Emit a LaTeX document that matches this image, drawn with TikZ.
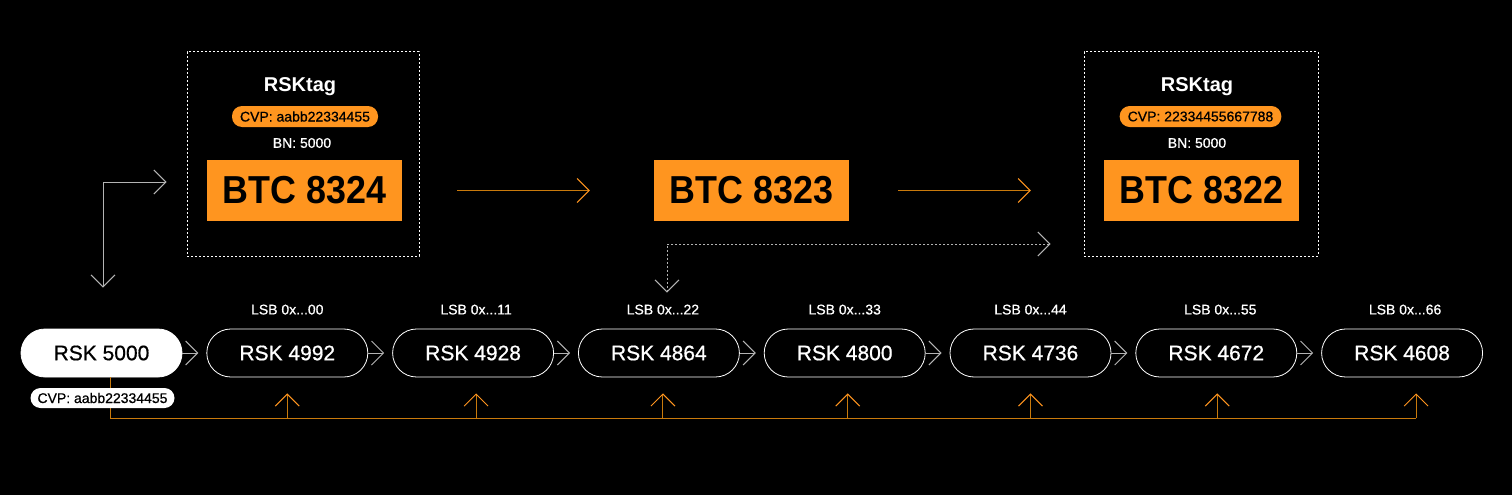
\documentclass[tikz,border=0pt]{standalone}
\usepackage{fontspec}
\setmainfont{Liberation Sans}
\newfontfamily\medfont[FakeBold=0.7]{Liberation Sans}
\newfontfamily\btcfont[FakeStretch=0.92]{Liberation Sans}
\usepackage{tikz}
\usetikzlibrary{arrows.meta,positioning,calc}
\definecolor{btcorange}{HTML}{FF951F}
\definecolor{linkorange}{HTML}{C97A0C}
\definecolor{linkgray}{HTML}{B4B4B4}
\tikzset{
  tagbox/.style={draw=white, line width=1pt, dash pattern=on 2pt off 2pt, minimum width=232pt, minimum height=204pt},
  tagtitle/.style={text=white, inner sep=0pt, font=\fontsize{20}{20}\selectfont\bfseries},
  cvppill/.style={fill=btcorange, text=black, rounded corners=10pt, minimum height=21pt, inner xsep=8pt, inner ysep=0pt, font=\fontsize{14}{14}\medfont},
  bnlabel/.style={text=white, inner sep=0pt, font=\fontsize{14}{14}\medfont},
  btcbox/.style={fill=btcorange, text=black, minimum width=195pt, minimum height=61pt, inner sep=0pt, font=\fontsize{39}{39}\btcfont\bfseries},
  rskpill/.style={draw=white, line width=0.8pt, fill=black, text=white, rounded corners=24pt, minimum width=161pt, minimum height=48pt, inner sep=0pt, font=\fontsize{21}{21}\medfont},
  rskfirst/.style={rskpill, fill=white, text=black},
  cvplabel/.style={fill=white, text=black, rounded corners=10pt, minimum height=20pt, inner xsep=7pt, inner ysep=0pt, font=\fontsize{14}{14}\medfont},
  lsblabel/.style={text=white, inner sep=0pt, font=\fontsize{14}{14}\medfont},
  grayarrow/.style={draw=linkgray, line width=1pt, -{Straight Barb[length=12pt, width=24pt]}},
  graylink/.style={draw=linkgray, line width=1pt, {Straight Barb[length=12pt, width=24pt]}-{Straight Barb[length=12pt, width=24pt]}},
  dottedlink/.style={graylink, dash pattern=on 2pt off 2pt},
  orangearrow/.style={draw=linkorange, line width=1pt, -{Straight Barb[length=12pt, width=24pt, color=btcorange]}},
  orangeline/.style={draw=linkorange, line width=1pt}
}
\begin{document}
\begin{tikzpicture}[x=1pt,y=-1pt]
  \fill[black] (0,0) rectangle (1512,495);
  \useasboundingbox (0,0) rectangle (1512,495);

  % tagged bitcoin blocks
  \node[tagbox] (tag1) at (303,154) {};
  \node[tagtitle] (title1) at (300,87) {RSKtag};
  \node[cvppill] (cvp1) at (305,116.5) {CVP: aabb22334455};
  \node[bnlabel] (bn1) at (302,143) {BN: 5000};
  \node[btcbox] (btc1) at (304.5,190.5) {BTC 8324};

  \node[btcbox] (btc2) at (751.5,190.5) {BTC 8323};

  \node[tagbox, minimum width=234pt] (tag2) at (1201,154) {};
  \node[tagtitle] (title2) at (1197,87) {RSKtag};
  \node[cvppill] (cvp2) at (1200.5,116.5) {CVP: 22334455667788};
  \node[bnlabel] (bn2) at (1197,143) {BN: 5000};
  \node[btcbox] (btc3) at (1201.5,190.5) {BTC 8322};

  \draw[orangearrow, shorten <=55pt, shorten >=64pt] (btc1) -- (btc2);
  \draw[orangearrow, shorten <=49pt, shorten >=73pt] (btc2) -- (btc3);

  % rootstock chain
  \node[rskfirst] (rsk5000) at (101.5,353) {RSK 5000};
  \node[rskpill, right=24pt of rsk5000] (rsk4992) {RSK 4992};
  \node[rskpill, right=24pt of rsk4992] (rsk4928) {RSK 4928};
  \node[rskpill, right=24pt of rsk4928] (rsk4864) {RSK 4864};
  \node[rskpill, right=24pt of rsk4864] (rsk4800) {RSK 4800};
  \node[rskpill, right=24pt of rsk4800] (rsk4736) {RSK 4736};
  \node[rskpill, right=24pt of rsk4736] (rsk4672) {RSK 4672};
  \node[rskpill, right=24pt of rsk4672] (rsk4608) {RSK 4608};

  \node[lsblabel] (lsb1) at ([yshift=19pt]rsk4992.north) {LSB 0x...00};
  \node[lsblabel] (lsb2) at ([xshift=3pt,yshift=19pt]rsk4928.north) {LSB 0x...11};
  \node[lsblabel] (lsb3) at ([xshift=4pt,yshift=19pt]rsk4864.north) {LSB 0x...22};
  \node[lsblabel] (lsb4) at ([yshift=19pt]rsk4800.north) {LSB 0x...33};
  \node[lsblabel] (lsb5) at ([yshift=19pt]rsk4736.north) {LSB 0x...44};
  \node[lsblabel] (lsb6) at ([xshift=4pt,yshift=19pt]rsk4672.north) {LSB 0x...55};
  \node[lsblabel] (lsb7) at ([xshift=3pt,yshift=19pt]rsk4608.north) {LSB 0x...66};

  \draw[grayarrow, shorten >=8pt] (rsk5000) -- (rsk4992);
  \draw[grayarrow, shorten >=8pt] (rsk4992) -- (rsk4928);
  \draw[grayarrow, shorten >=8pt] (rsk4928) -- (rsk4864);
  \draw[grayarrow, shorten >=8pt] (rsk4864) -- (rsk4800);
  \draw[grayarrow, shorten >=8pt] (rsk4800) -- (rsk4736);
  \draw[grayarrow, shorten >=8pt] (rsk4736) -- (rsk4672);
  \draw[grayarrow, shorten >=8pt] (rsk4672) -- (rsk4608);

  % links between the two chains
  \coordinate (tagin) at ([xshift=-20pt]tag1.west |- 0,182);
  \coordinate (rskin) at ([yshift=41pt]rsk5000.north -| 103,0);
  \draw[graylink] (tagin) -| (rskin);
  \coordinate (tagout) at ([xshift=-33pt]tag2.west |- 0,244);
  \coordinate (rskout) at ([yshift=36pt]rsk4864.north -| 667,0);
  \draw[dottedlink] (tagout) -| (rskout);

  % cvp search line
  \coordinate (base) at ([xshift=9pt]rsk5000.south |- 0,418);
  \coordinate (baseend) at ([xshift=14pt]rsk4608.south |- 0,418);
  \draw[orangeline] ([xshift=9pt]rsk5000.south) -- (base) -- (baseend);
  \draw[orangearrow] (rsk4992.south |- base) -- ([yshift=-16pt]rsk4992.south);
  \draw[orangearrow] ([xshift=3pt]rsk4928.south |- base) -- ([xshift=3pt,yshift=-16pt]rsk4928.south);
  \draw[orangearrow] ([xshift=4pt]rsk4864.south |- base) -- ([xshift=4pt,yshift=-16pt]rsk4864.south);
  \draw[orangearrow] ([xshift=3pt]rsk4800.south |- base) -- ([xshift=3pt,yshift=-16pt]rsk4800.south);
  \draw[orangearrow] (rsk4736.south |- base) -- ([yshift=-16pt]rsk4736.south);
  \draw[orangearrow] ([xshift=1pt]rsk4672.south |- base) -- ([xshift=1pt,yshift=-16pt]rsk4672.south);
  \draw[orangearrow] ([xshift=14pt]rsk4608.south |- base) -- ([xshift=14pt,yshift=-16pt]rsk4608.south);
  \node[cvplabel] (cvp0) at (102.5,398) {CVP: aabb22334455};
\end{tikzpicture}
\end{document}
